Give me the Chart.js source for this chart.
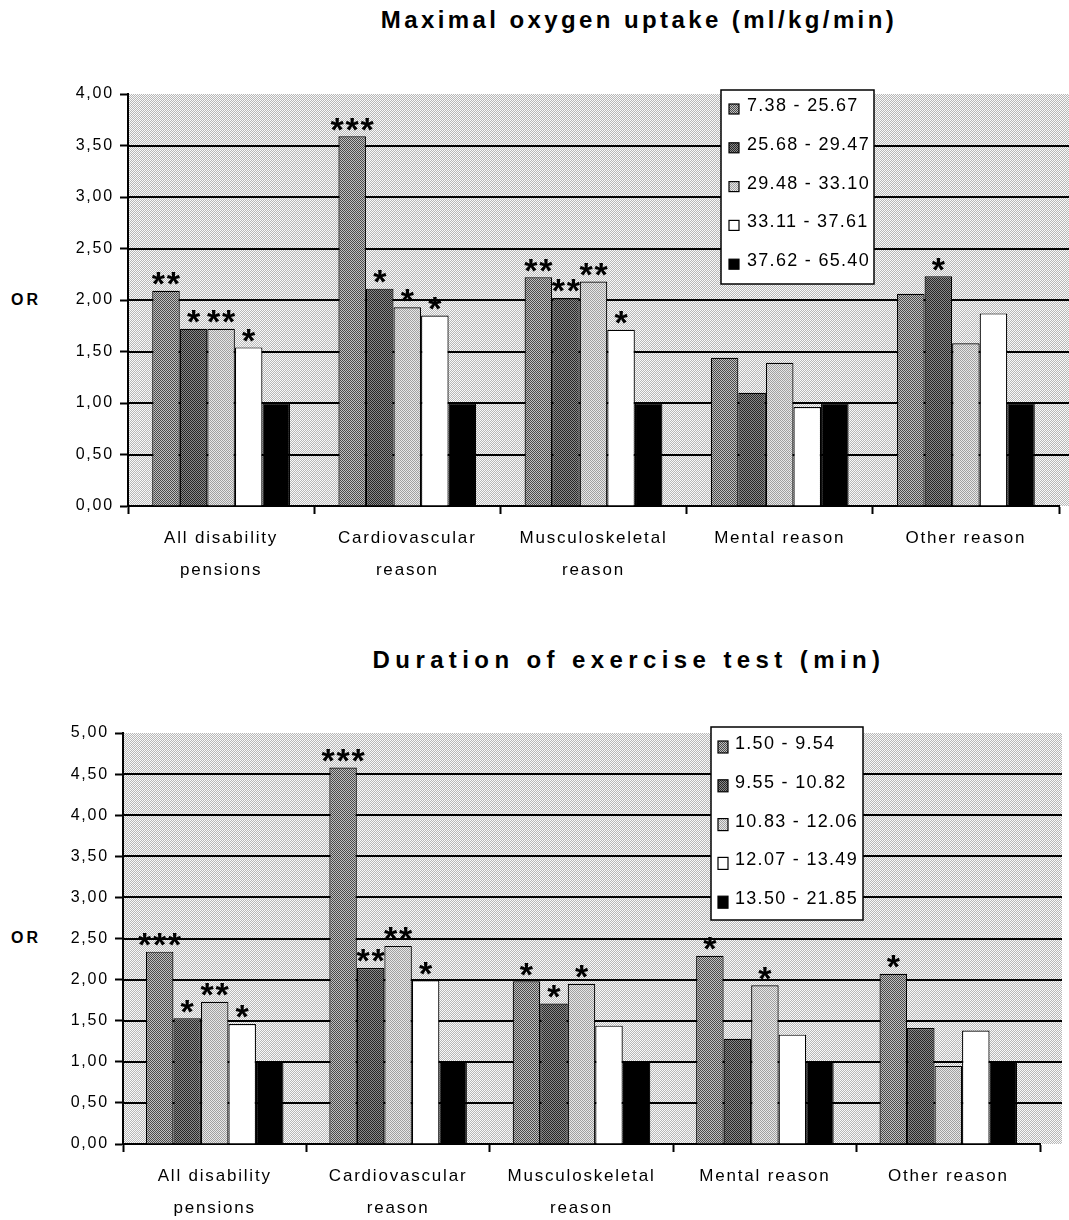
<!DOCTYPE html>
<html>
<head>
<meta charset="utf-8">
<script src="https://cdn.jsdelivr.net/npm/chart.js@4.4.1/dist/chart.umd.min.js"></script>
<style>
  html, body { margin: 0; padding: 0; background: #fff; width: 1069px; height: 1220px; overflow: hidden;
    font-family: "Liberation Sans", Arial, sans-serif; color: #000; }
  .panel { position: absolute; left: 0; width: 1069px; }
  .title { position: absolute; width: 800px; text-align: center; white-space: nowrap;
    font-weight: bold; font-size: 24px; line-height: 28px; }
  .ylab { position: absolute; left: 11px; font-weight: bold; font-size: 16px; line-height: 18px; letter-spacing: 3px; }
</style>
</head>
<body>
<div class="title" style="left:239px; top:6px; letter-spacing:3.4px;">Maximal oxygen uptake (ml/kg/min)</div>
<div class="title" style="left:229px; top:646px; letter-spacing:5.4px;">Duration of exercise test (min)</div>
<div class="ylab" style="top:291px;">OR</div>
<div class="ylab" style="top:929px;">OR</div>
<div class="panel" style="top:0; height:620px;"><canvas id="oxygen" width="1069" height="620"></canvas></div>
<div class="panel" style="top:620px; height:600px;"><canvas id="duration" width="1069" height="600"></canvas></div>

<script>
// Reasons for disability pension (x categories)
const categories = [
  ['All disability', 'pensions'],
  ['Cardiovascular', 'reason'],
  ['Musculoskeletal', 'reason'],
  ['Mental reason'],
  ['Other reason']
];

// Maximal oxygen uptake quintiles (ml/kg/min)
const oxygenGroups = ['7.38 - 25.67', '25.68 - 29.47', '29.48 - 33.10', '33.11 - 37.61', '37.62 - 65.40'];
const oxygenQ1 = [2.09, 3.59, 2.22, 1.44, 2.06];
const oxygenQ2 = [1.72, 2.11, 2.02, 1.10, 2.23];
const oxygenQ3 = [1.72, 1.93, 2.18, 1.39, 1.58];
const oxygenQ4 = [1.54, 1.85, 1.71, 0.96, 1.87];
const oxygenQ5 = [1.00, 1.00, 1.00, 1.00, 1.00];
const oxygenSigQ1 = ['**', '***', '**', '', ''];
const oxygenSigQ2 = ['*', '*', '**', '', '*'];
const oxygenSigQ3 = ['**', '*', '**', '', ''];
const oxygenSigQ4 = ['*', '*', '*', '', ''];
const oxygenSigQ5 = ['', '', '', '', ''];
const oxygenTicks = [0, 0.5, 1, 1.5, 2, 2.5, 3, 3.5, 4];

// Exercise test duration quintiles (min)
const durationGroups = ['1.50 - 9.54', '9.55 - 10.82', '10.83 - 12.06', '12.07 - 13.49', '13.50 - 21.85'];
const durationQ1 = [2.34, 4.58, 1.98, 2.29, 2.07];
const durationQ2 = [1.53, 2.14, 1.71, 1.28, 1.41];
const durationQ3 = [1.73, 2.41, 1.95, 1.93, 0.95];
const durationQ4 = [1.46, 1.99, 1.44, 1.33, 1.38];
const durationQ5 = [1.00, 1.00, 1.00, 1.00, 1.00];
const durationSigQ1 = ['***', '***', '*', '*', '*'];
const durationSigQ2 = ['*', '**', '*', '', ''];
const durationSigQ3 = ['**', '**', '*', '*', ''];
const durationSigQ4 = ['*', '*', '', '', ''];
const durationSigQ5 = ['', '', '', '', ''];
const durationTicks = [0, 0.5, 1, 1.5, 2, 2.5, 3, 3.5, 4, 4.5, 5];

const FONT = '"Liberation Sans", Arial, sans-serif';
const STAR_SIZE = 34;

// 2x2 dithered fills, like old print-style hatching
function dither(a, b) {
  const c = document.createElement('canvas');
  c.width = 2; c.height = 2;
  const g = c.getContext('2d');
  g.fillStyle = a; g.fillRect(0, 0, 2, 2);
  g.fillStyle = b; g.fillRect(1, 0, 1, 1); g.fillRect(0, 1, 1, 1);
  return g.createPattern(c, 'repeat');
}
const paneFill = dither('#fafafa', '#b8b8b8');
const quintileFills = [
  dither('#4a4a4a', '#c0c0c0'),
  dither('#262626', '#8a8a8a'),
  dither('#a0a0a0', '#e8e8e8'),
  '#ffffff',
  '#000000'
];

const fmt = v => v.toFixed(2).replace('.', ',');

// Pane background, gridlines, significance stars and the boxed legend
const panelPlugin = {
  id: 'panel',
  beforeDraw(chart, args, o) {
    const { ctx, chartArea: a } = chart;
    ctx.save();
    ctx.fillStyle = paneFill;
    ctx.fillRect(a.left, a.top, a.right + o.extend - a.left, a.bottom - a.top);
    ctx.restore();
    ctx.letterSpacing = '1.8px';
  },
  beforeDatasetsDraw(chart, args, o) {
    const { ctx, chartArea: a, scales: { y } } = chart;
    ctx.save();
    ctx.strokeStyle = '#000';
    ctx.lineWidth = 2;
    ctx.beginPath();
    o.ticks.forEach(v => {
      if (v === 0 || v === y.max) return;
      const py = Math.round(y.getPixelForValue(v));
      ctx.moveTo(a.left, py);
      ctx.lineTo(a.right + o.extend, py);
    });
    ctx.stroke();
    ctx.restore();
  },
  afterDatasetsDraw(chart, args, o) {
    const ctx = chart.ctx;
    ctx.save();
    ctx.letterSpacing = '0px';
    ctx.fillStyle = '#000';
    ctx.font = 'bold ' + STAR_SIZE + 'px ' + FONT;
    ctx.textAlign = 'center';
    ctx.textBaseline = 'alphabetic';
    o.stars.forEach((row, i) => {
      const meta = chart.getDatasetMeta(i);
      row.forEach((s, j) => {
        if (!s) return;
        const el = meta.data[j];
        const n = s.length;
        const cy = el.y - 15;
        for (let k = 0; k < n; k++) {
          const cx = el.x + (k - (n - 1) / 2) * 15;
          ctx.fillText('*', cx, cy + STAR_SIZE * 0.57);
        }
      });
    });
    ctx.restore();
  },
  afterDraw(chart, args, o) {
    const ctx = chart.ctx;
    const L = o.legend;
    ctx.save();
    ctx.letterSpacing = '0px';
    ctx.fillStyle = '#fff';
    ctx.fillRect(L.x, L.y, L.w, L.h);
    ctx.strokeStyle = '#000';
    ctx.lineWidth = 1.5;
    ctx.strokeRect(L.x, L.y, L.w, L.h);
    ctx.font = '18px ' + FONT;
    ctx.letterSpacing = '1.3px';
    ctx.textAlign = 'left';
    ctx.textBaseline = 'middle';
    chart.data.datasets.forEach((ds, i) => {
      const cy = L.firstRow + i * L.rowGap;
      ctx.fillStyle = ds.backgroundColor;
      ctx.fillRect(L.swatchX, cy - L.swatchH / 2 + 3, 10, L.swatchH);
      ctx.strokeStyle = '#000';
      ctx.lineWidth = 1.2;
      ctx.strokeRect(L.swatchX, cy - L.swatchH / 2 + 3, 10, L.swatchH);
      ctx.fillStyle = '#000';
      ctx.fillText(ds.label, L.textX, cy);
    });
    ctx.restore();
  }
};

function orChart(id, groups, series, stars, ticks, yMax, geom) {
  const canvas = document.getElementById(id);
  return new Chart(canvas, {
    type: 'bar',
    data: {
      labels: categories,
      datasets: series.map((d, i) => ({
        label: groups[i],
        data: d,
        backgroundColor: quintileFills[i],
        borderColor: '#000',
        borderWidth: 1.2,
        categoryPercentage: geom.groupWidth,
        barPercentage: 1.0
      }))
    },
    options: {
      responsive: false,
      animation: false,
      devicePixelRatio: 1,
      layout: { padding: { top: geom.top, right: geom.right, left: 0, bottom: 0 } },
      plugins: {
        legend: { display: false },
        tooltip: { enabled: false },
        panel: { extend: geom.extend, ticks: ticks, stars: stars, legend: geom.legend }
      },
      scales: {
        x: {
          grid: { drawOnChartArea: false, drawTicks: true, tickLength: 8, tickColor: '#000', tickWidth: 2, offset: true },
          border: { color: '#000', width: 2 },
          ticks: { color: '#000', padding: 8, maxRotation: 0, autoSkip: false,
            font: { family: FONT, size: 17, lineHeight: '32px' } },
          afterFit(s) { s.height = canvas.height - geom.bottom; }
        },
        y: {
          min: 0, max: yMax,
          afterBuildTicks(s) { s.ticks = ticks.map(v => ({ value: v })); },
          grid: { drawOnChartArea: false, drawTicks: true, tickLength: 8, tickColor: '#000', tickWidth: 2 },
          border: { color: '#000', width: 2 },
          ticks: { color: '#000', padding: 6, font: { family: FONT, size: 16 }, callback: v => fmt(v) },
          afterFit(s) { s.width = geom.axisWidth; }
        }
      }
    },
    plugins: [panelPlugin]
  });
}

orChart('oxygen', oxygenGroups,
  [oxygenQ1, oxygenQ2, oxygenQ3, oxygenQ4, oxygenQ5],
  [oxygenSigQ1, oxygenSigQ2, oxygenSigQ3, oxygenSigQ4, oxygenSigQ5],
  oxygenTicks, 4,
  { top: 94, bottom: 506, right: 10, extend: 10, axisWidth: 128, groupWidth: 0.74,
    legend: { x: 721, y: 90, w: 153, h: 194, swatchX: 729, swatchH: 10, textX: 747, firstRow: 106, rowGap: 38.8 } });

orChart('duration', durationGroups,
  [durationQ1, durationQ2, durationQ3, durationQ4, durationQ5],
  [durationSigQ1, durationSigQ2, durationSigQ3, durationSigQ4, durationSigQ5],
  durationTicks, 5,
  { top: 113, bottom: 524, right: 29, extend: 22, axisWidth: 123, groupWidth: 0.75,
    legend: { x: 711, y: 107, w: 152, h: 193, swatchX: 718, swatchH: 12, textX: 735, firstRow: 124, rowGap: 38.8 } });
</script>
</body>
</html>
